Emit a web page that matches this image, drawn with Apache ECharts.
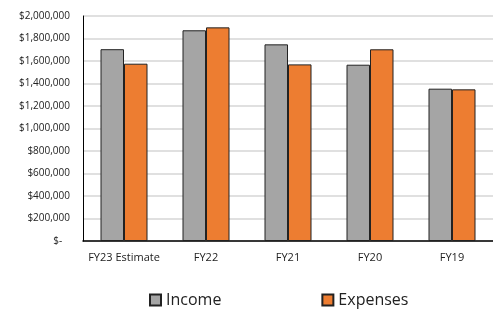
<!DOCTYPE html>
<html lang="en">
<head>
    <meta charset="UTF-8">
    <title>Income vs Expenses</title>
    <script src="https://cdn.jsdelivr.net/npm/echarts@6/dist/echarts.min.js"></script>
    <style>
        html, body { margin: 0; padding: 0; background: #fff; }
        #app { width: 493px; height: 311px; }
    </style>
</head>
<body>
    <div id="app"></div>
    <script>
        let categories = ['FY23 Estimate', 'FY22', 'FY21', 'FY20', 'FY19']
        let income = [1705000, 1873000, 1748000, 1567000, 1354000]
        let expenses = [1576000, 1899000, 1570000, 1704000, 1348000]

        let font = 'Open Sans'
        let mCharts = echarts.init(document.getElementById('app'))

        function money(v) {
            if (v === 0) return '$-   '
            return '$' + v.toLocaleString('en-US')
        }

        let option = {
            animation: false,
            grid: { left: 83, top: 16, width: 416, height: 225 },
            legend: {
                left: 149, top: 292, padding: 0,
                itemWidth: 11, itemHeight: 11, itemGap: 100,
                icon: 'rect',
                textStyle: { fontFamily: font, fontSize: 16, color: '#222' },
                data: ['Income', 'Expenses']
            },
            xAxis: {
                type: 'category',
                data: categories,
                axisLine: { lineStyle: { color: '#000', width: 1.5 } },
                axisTick: { show: false },
                axisLabel: { interval: 0, fontFamily: font, fontSize: 11, color: '#222', margin: 11 }
            },
            yAxis: {
                type: 'value',
                min: 0, max: 2000000, interval: 200000,
                axisLine: { show: true, lineStyle: { color: '#000', width: 1 } },
                axisLabel: { fontFamily: font, fontSize: 10, color: '#222', margin: 13, formatter: money },
                splitLine: { lineStyle: { color: '#d6d6d6', width: 1.5 } }
            },
            series: [
                {
                    name: 'Income', type: 'bar', data: income,
                    barWidth: 23.5, barGap: '0%',
                    itemStyle: { color: '#a5a5a5', borderColor: '#222', borderWidth: 1 }
                },
                {
                    name: 'Expenses', type: 'bar', data: expenses,
                    barWidth: 23.5,
                    itemStyle: { color: '#ed7d31', borderColor: '#222', borderWidth: 1 }
                }
            ]
        }
        mCharts.setOption(option)
    </script>
</body>
</html>
